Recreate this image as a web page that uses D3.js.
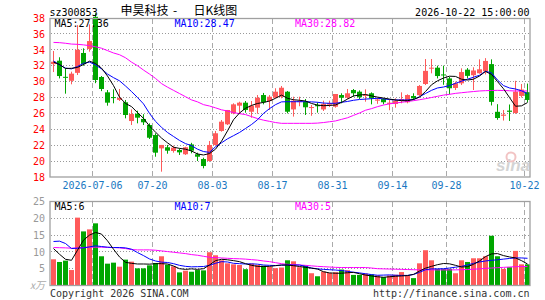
<!DOCTYPE html>
<html><head><meta charset="utf-8">
<script src="https://cdn.jsdelivr.net/npm/d3@7/dist/d3.min.js"></script>
<style>body{margin:0;background:#fff}svg{display:block}</style>
</head><body><svg id="c" width="545" height="300"></svg>
<script>
const dates = ["2026-06-25","2026-06-26","2026-06-29","2026-06-30","2026-07-01","2026-07-02","2026-07-03",
"2026-07-06","2026-07-07","2026-07-08","2026-07-09","2026-07-10","2026-07-13","2026-07-14","2026-07-15","2026-07-16","2026-07-17",
"2026-07-20","2026-07-21","2026-07-22","2026-07-23","2026-07-24","2026-07-27","2026-07-28","2026-07-29","2026-07-30","2026-07-31",
"2026-08-03","2026-08-04","2026-08-05","2026-08-06","2026-08-07","2026-08-10","2026-08-11","2026-08-12","2026-08-13","2026-08-14",
"2026-08-17","2026-08-18","2026-08-19","2026-08-20","2026-08-21","2026-08-24","2026-08-25","2026-08-26","2026-08-27","2026-08-28",
"2026-08-31","2026-09-01","2026-09-02","2026-09-03","2026-09-04","2026-09-07","2026-09-08","2026-09-09","2026-09-10","2026-09-11",
"2026-09-14","2026-09-15","2026-09-16","2026-09-17","2026-09-18","2026-09-21","2026-09-22","2026-09-23","2026-09-24",
"2026-09-28","2026-09-29","2026-09-30","2026-10-08","2026-10-09","2026-10-12","2026-10-13","2026-10-14","2026-10-15","2026-10-16",
"2026-10-19","2026-10-20","2026-10-21","2026-10-22"];
const openP = [32.2,32.63,30.6,30.1,31.1,33.6,34.1,38.15,30.58,28.65,28.05,27.7,27.4,25.04,25.96,25.3,24.54,23.28,21.6,21.74,
21.27,21.4,20.86,22.1,20.86,20.26,20.01,22.03,23.79,24.63,26.0,26.97,27.35,26.21,26.72,28.31,27.56,27.97,28.1,28.73,
26.5,27.45,27.47,26.7,27.05,26.5,27.1,26.84,28.31,27.97,28.94,28.73,28.2,28.53,27.6,27.81,27.2,27.18,27.56,27.4,
28.19,28.3,29.7,31.65,31.75,30.9,30.4,29.2,29.78,31.5,30.8,31.05,31.3,32.2,26.2,25.7,26.35,26.05,28.2,28.67];
const highP = [33.85,33.06,31.67,31.25,37.1,34.19,37.2,38.6,30.7,28.94,29.03,29.07,27.69,26.5,26.34,25.9,24.75,23.5,22.03,22.03,
21.94,21.6,21.81,22.3,21.06,20.43,22.53,23.79,25.17,26.43,27.27,27.47,27.56,27.56,28.31,28.57,28.31,29.16,29.45,28.82,
28.1,28.1,27.81,27.06,27.4,27.6,27.6,28.44,28.53,29.07,29.07,28.9,29.03,28.65,28.0,27.9,27.7,27.9,28.65,28.4,
28.53,29.57,32.84,32.84,32.0,32.0,30.6,30.0,31.67,31.7,31.8,32.8,32.95,32.8,27.16,26.43,27.12,30.1,29.7,29.75];
const lowP = [31.2,30.4,28.48,29.66,30.83,32.0,33.76,29.8,28.8,26.97,27.27,27.56,25.38,24.54,24.75,24.54,22.78,20.55,18.67,20.93,
21.06,20.77,20.77,20.98,20.01,19.09,19.92,21.94,23.7,24.54,25.89,26.0,26.09,25.46,25.96,27.14,26.43,27.9,27.9,26.01,
25.6,26.9,25.8,25.7,26.1,26.3,26.8,26.72,27.27,27.81,28.1,27.8,27.47,27.14,27.2,27.14,26.4,26.72,27.27,27.27,
27.65,28.2,29.57,31.04,30.4,29.6,28.4,28.94,29.57,30.4,28.94,31.0,30.9,27.0,25.2,25.1,25.05,25.95,28.0,27.4];
const closeP = [32.5,30.7,30.55,31.0,34.0,32.2,35.1,30.2,29.07,27.35,28.0,27.95,25.8,25.92,25.46,24.88,22.94,21.06,22.03,21.31,
21.69,21.1,21.74,21.31,20.55,19.38,22.03,23.5,24.96,26.43,27.14,27.35,26.43,26.97,27.97,27.4,28.1,28.73,29.23,26.21,
27.6,27.55,26.77,26.8,26.9,27.2,27.3,28.44,27.97,28.53,28.53,28.03,28.35,27.9,27.75,27.4,27.35,27.6,27.8,28.31,
27.9,29.45,31.35,31.75,30.7,30.8,29.16,29.8,31.2,30.72,31.4,31.55,32.6,27.45,25.42,25.85,26.2,28.73,29.0,27.69];
const ma5 = [32.45,32.15,31.65,31.67,31.78,32.15,32.57,32.28,31.7,30.7,29.5,28.05,27.25,26.86,26.1,25.38,24.4,23.65,22.9,22.3,
21.75,21.6,21.5,21.27,20.9,20.77,20.95,21.5,22.5,23.8,25.2,26.05,26.64,27.0,27.25,27.38,27.55,27.9,28.3,27.9,
27.72,27.65,27.56,27.25,27.05,26.97,27.0,27.06,27.38,27.8,28.2,28.31,28.38,28.2,28.05,27.93,27.8,27.69,27.6,27.6,
27.75,28.05,28.75,29.6,30.1,30.45,30.68,30.65,30.3,30.2,30.3,30.7,31.28,30.9,30.0,29.1,28.0,26.9,26.95,27.36];
const ma10 = [32.6,32.1,31.7,31.6,31.9,32.3,32.45,32.1,31.6,30.95,30.5,30.1,29.45,28.75,28.0,27.2,26.0,25.0,24.25,23.6,
23.1,22.6,22.2,21.95,21.5,21.2,21.1,21.8,22.3,22.8,23.2,23.6,24.1,24.6,25.2,26.0,26.6,27.1,27.45,27.47,
27.47,27.47,27.47,27.45,27.4,27.3,27.27,27.27,27.4,27.5,27.65,27.75,27.8,27.85,27.9,27.82,27.75,27.69,27.69,27.69,
27.75,28.1,28.5,28.9,29.2,29.32,29.5,29.78,30.05,30.3,30.55,30.8,31.3,31.1,30.2,29.5,29.2,29.07,28.85,28.47];
const ma30 = [34.93,34.9,34.82,34.72,34.69,34.62,34.52,34.38,34.2,33.9,33.6,33.38,33.0,32.45,32.0,31.45,30.95,30.4,29.75,29.3,
28.9,28.5,28.1,27.7,27.45,27.1,26.93,26.7,26.45,26.3,26.1,25.97,25.85,25.6,25.35,25.15,25.0,24.85,24.75,24.75,
24.75,24.75,24.75,24.75,24.78,24.85,24.95,25.05,25.25,25.45,25.75,26.05,26.4,26.6,26.85,27.05,27.2,27.3,27.4,27.5,
27.6,27.72,27.85,28.0,28.15,28.3,28.4,28.52,28.6,28.68,28.75,28.82,28.86,28.88,28.9,28.88,28.85,28.82,28.82,28.82];
const volume = [7.8,7.0,7.4,4.6,20.2,16.1,16.7,18.5,8.7,6.5,6.8,5.6,7.7,7.1,5.1,5.1,6.0,6.7,8.7,6.2,
5.7,3.9,4.4,4.1,4.6,4.5,9.9,9.0,7.5,6.6,6.3,6.1,4.85,6.5,6.1,5.9,5.6,5.15,5.35,7.5,
7.2,5.45,5.9,3.65,2.75,4.15,3.75,3.95,4.75,4.55,3.15,3.15,3.55,3.3,3.0,2.5,3.0,3.2,4.0,3.0,
2.2,6.6,10.5,7.5,4.95,4.95,4.95,3.65,7.5,7.0,8.1,8.1,8.7,14.8,8.7,4.95,5.45,10.3,6.3,6.3];
const vma5 = [11.0,9.3,7.8,7.5,10.5,13.5,15.0,15.8,15.3,13.3,10.8,8.5,6.9,6.6,6.4,6.4,6.35,6.5,6.5,6.4,
5.8,5.0,4.8,4.95,4.8,5.0,6.1,7.4,7.8,7.65,7.4,7.1,6.5,6.0,5.7,5.65,5.7,5.9,6.1,6.1,
5.9,5.65,5.4,5.15,4.9,4.1,3.75,3.65,3.65,3.8,3.9,3.5,3.1,2.85,2.6,2.45,2.6,2.75,2.85,2.95,
3.3,4.3,5.15,5.7,6.2,6.55,6.45,6.0,5.5,5.6,6.3,7.3,8.6,9.4,9.5,8.9,8.5,8.2,7.4,6.4];
const vma10 = [13.1,13.2,12.5,11.0,11.1,11.2,11.5,11.8,11.6,11.4,11.3,11.3,11.2,10.8,9.8,8.9,7.9,7.3,6.95,6.85,
6.5,6.0,5.7,5.55,5.6,5.65,6.0,6.6,7.1,7.0,6.6,6.5,6.4,6.45,6.35,6.1,6.0,5.95,6.05,6.1,
6.1,6.1,5.7,5.2,4.95,4.8,4.7,4.6,4.45,4.2,3.95,3.75,3.5,3.25,3.05,3.1,3.15,3.05,3.0,3.0,
3.3,3.9,4.7,4.95,4.95,5.0,5.2,5.45,5.7,6.1,6.6,7.0,7.3,7.5,7.65,7.85,8.05,8.2,8.2,8.1];
const vma30 = [11.3,11.25,11.2,11.1,11.2,11.3,11.4,11.4,11.4,11.35,11.3,11.2,11.0,10.7,10.6,10.6,10.6,10.5,10.3,10.1,
9.9,9.7,9.5,9.2,9.0,8.7,8.4,8.3,8.2,8.1,8.0,7.95,7.85,7.7,7.55,7.3,7.1,6.8,6.5,6.3,
6.2,6.1,6.0,5.85,5.7,5.6,5.5,5.4,5.35,5.35,5.35,5.35,5.35,5.2,5.0,4.95,4.9,4.85,4.8,4.75,
4.7,4.65,4.65,4.65,4.65,4.65,4.65,4.65,4.7,4.75,4.85,4.95,5.1,5.2,5.3,5.4,5.5,5.6,5.65,5.65];
const tickDates = ["2026-07-06","2026-07-20","2026-08-03","2026-08-17","2026-08-31","2026-09-14","2026-09-28","2026-10-22"];
const tickLabels = ["2026-07-06","07-20","08-03","08-17","08-31","09-14","09-28","10-22"];
const priceTicks = [18,20,22,24,26,28,30,32,34,36,38];
const volTicks = [5,10,15,20,25];

const RED = "#ff5a5a", GREEN = "#00a600";
const mono = "'DejaVu Sans Mono','Liberation Mono',monospace";
const svg = d3.select("#c");

const L = 50.5, R = 530.5;
const x = d3.scaleBand().domain(dates).range([L, R]).padding(0);
const bx = d => Math.round(x(d));
const y = d3.scaleLinear().domain([18, 38]).range([177, 18]);
const yv = d3.scaleLinear().domain([0, 25]).range([285.5, 201.5]);
const half = v => Math.round(v - 0.5) + 0.5;

const rows = dates.map((d, i) => ({d, o: openP[i], h: highP[i], l: lowP[i], c: closeP[i], v: volume[i],
  m5: ma5[i], m10: ma10[i], m30: ma30[i], v5: vma5[i], v10: vma10[i], v30: vma30[i]}));
const col = r => r.c >= r.o ? RED : GREEN;

// grid
const grid = svg.append("g");
priceTicks.filter(t => t > 18 && t < 38).forEach(t => {
  grid.append("line").attr("x1", 51).attr("x2", 530).attr("y1", half(y(t))).attr("y2", half(y(t)))
    .attr("stroke", "#999").attr("stroke-dasharray", "1,2");
});
volTicks.filter(t => t < 25).forEach(t => {
  grid.append("line").attr("x1", 51).attr("x2", 530).attr("y1", half(yv(t))).attr("y2", half(yv(t)))
    .attr("stroke", "#999").attr("stroke-dasharray", "1,2");
});
tickDates.forEach(d => {
  const gx = bx(d) - 0.5;
  grid.append("line").attr("x1", gx).attr("x2", gx).attr("y1", 19).attr("y2", 177)
    .attr("stroke", "#aaa").attr("stroke-dasharray", "5,3");
  grid.append("line").attr("x1", gx).attr("x2", gx).attr("y1", 202).attr("y2", 285)
    .attr("stroke", "#aaa").attr("stroke-dasharray", "5,3");
});

// candles
const cg = svg.append("g");
cg.selectAll("line.w").data(rows).join("line").attr("class", "w")
  .attr("x1", r => bx(r.d) + 2.5).attr("x2", r => bx(r.d) + 2.5)
  .attr("y1", r => y(r.h)).attr("y2", r => y(r.l)).attr("stroke", col);
cg.selectAll("rect").data(rows).join("rect")
  .attr("x", r => bx(r.d)).attr("width", 5)
  .attr("y", r => y(Math.max(r.o, r.c)))
  .attr("height", r => Math.max(1, Math.abs(y(r.o) - y(r.c))))
  .attr("fill", col);

// volume bars
svg.append("g").selectAll("rect").data(rows).join("rect")
  .attr("x", r => bx(r.d)).attr("width", 5)
  .attr("y", r => yv(r.v)).attr("height", r => yv(0) - yv(r.v)).attr("fill", col);

// MA lines
const lineP = k => d3.line().x(r => bx(r.d) + 2.5).y(r => y(r[k]));
const lineV = k => d3.line().x(r => bx(r.d) + 2.5).y(r => yv(r[k]));
[["m30", "#ff00ff"], ["m10", "#0000ff"], ["m5", "#000"]].forEach(([k, c]) =>
  svg.append("path").attr("d", lineP(k)(rows)).attr("fill", "none").attr("stroke", c).attr("stroke-width", 1));
[["v30", "#ff00ff"], ["v10", "#0000ff"], ["v5", "#000"]].forEach(([k, c]) =>
  svg.append("path").attr("d", lineV(k)(rows)).attr("fill", "none").attr("stroke", c).attr("stroke-width", 1));

// frames
svg.append("rect").attr("x", 50).attr("y", 18.5).attr("width", 480).attr("height", 158.5)
  .attr("fill", "none").attr("stroke", "#a0a0a0").attr("stroke-width", 1.3);
svg.append("rect").attr("x", 50).attr("y", 201.5).attr("width", 480).attr("height", 84)
  .attr("fill", "none").attr("stroke", "#a0a0a0").attr("stroke-width", 1.3);

// axes
const ya = svg.append("g").attr("transform", "translate(50,0)")
  .call(d3.axisLeft(y).tickValues(priceTicks).tickSize(0).tickPadding(5));
ya.select(".domain").remove();
ya.selectAll("text").attr("fill", "#f00").style("font", "10px " + mono);

const va = svg.append("g").attr("transform", "translate(50,0)")
  .call(d3.axisLeft(yv).tickValues(volTicks).tickSize(0).tickPadding(5));
va.select(".domain").remove();
va.selectAll("text").attr("fill", "#999").style("font", "10px " + mono);

const xa = svg.append("g").attr("transform", "translate(0,180)")
  .call(d3.axisBottom(x).tickValues(tickDates).tickSize(0).tickPadding(2)
    .tickFormat(d => tickLabels[tickDates.indexOf(d)]));
xa.select(".domain").remove();
xa.selectAll(".tick").attr("transform", d => `translate(${bx(d) - 0.5},0)`);
xa.selectAll("text").attr("fill", "#1a78c2").style("font", "10px " + mono);

// texts
const T = (s, px, py, c, anchor, font) => svg.append("text").attr("x", px).attr("y", py)
  .attr("fill", c).attr("text-anchor", anchor || "start").style("font", font || ("10px " + mono)).text(s);
T("sz300853", 49.5, 15.5, "#000");
T("申昊科技", 120.5, 15, "#000", "start", "12px 'Noto Sans CJK SC'");
T("-", 175, 15, "#000", "middle", "12px 'Noto Sans CJK SC'");
T("日K线图", 193.5, 15, "#000", "start", "12px 'Noto Sans CJK SC'");
T("2026-10-22 15:00:00", 529.5, 15.5, "#000", "end");
T("MA5:27.36", 54.5, 27, "#000");
T("MA10:28.47", 174.5, 27, "#0000ff");
T("MA30:28.82", 295, 27, "#ff00ff");
T("MA5:6", 54.5, 210, "#000");
T("MA10:7", 174.5, 210, "#0000ff");
T("MA30:5", 295, 210, "#ff00ff");
T("x万", 30, 289, "#aaa", "start", "italic 10px 'Noto Sans CJK SC'");
T("Copyright 2026 SINA.COM", 50, 296.5, "#333");
T("http://finance.sina.com.cn", 529.5, 296.5, "#333", "end");
// watermark
svg.append("circle").attr("cx", 511).attr("cy", 157).attr("r", 4.5).attr("fill", "none")
  .attr("stroke", "#f2c4c4").attr("stroke-width", 2);
T("sina", 496, 171, "#d4d4d4", "start", "italic bold 17px 'Liberation Sans'");
</script></body></html>
